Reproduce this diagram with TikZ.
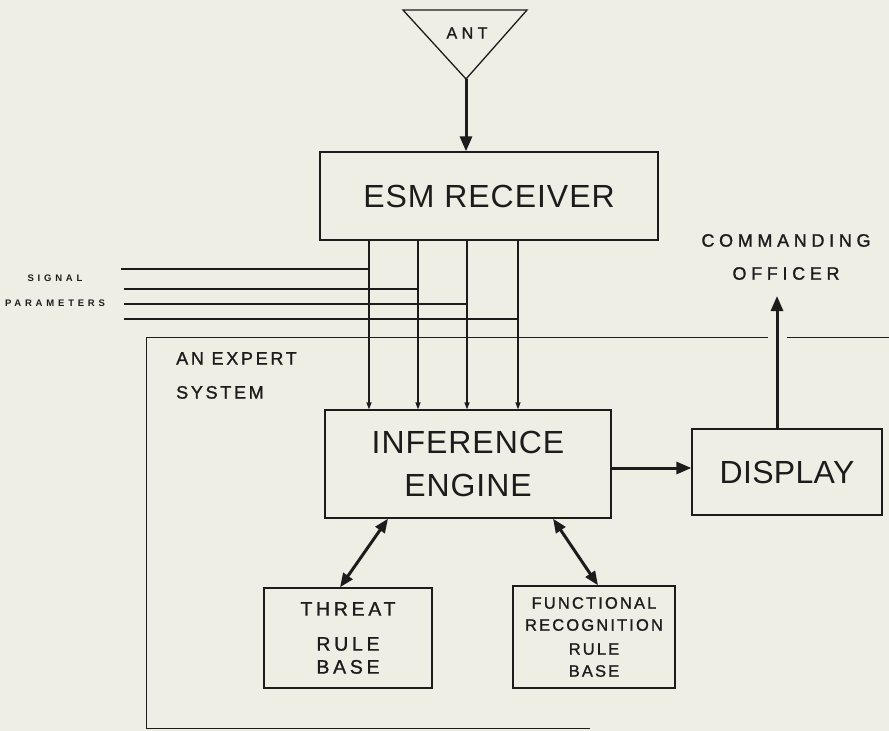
\documentclass[tikz,border=0pt]{standalone}
\usepackage{fontspec}
\setmainfont{Liberation Sans}
\usetikzlibrary{arrows.meta,calc}
\definecolor{paper}{RGB}{239,238,229}
\definecolor{ink}{RGB}{28,28,28}
\newcommand{\lsp}[3]{\fontsize{#1}{#2}\selectfont\addfontfeatures{LetterSpace=#3}}
\newcommand{\lspb}[3]{\fontsize{#1}{#2}\selectfont\addfontfeatures{LetterSpace=#3,FakeBold=1.2}}
\begin{document}
\begin{tikzpicture}[x=1pt,y=-1pt,
  boxline/.style={draw=ink,line width=1.3pt},
  blk/.style={boxline,rectangle,inner sep=0pt,align=center,text=ink},
  lbl/.style={inner sep=0pt,align=center,text=ink},
  wire/.style={draw=ink,line width=1.2pt},
  sigarrow/.style={draw=ink,line width=1.4pt,-{Triangle[length=7pt,width=5pt]}},
  bigarrow/.style={draw=ink,line width=3pt,-{Triangle[length=15pt,width=12pt]}},
  dblarrow/.style={draw=ink,line width=3pt,{Triangle[length=14pt,width=11pt]}-{Triangle[length=14pt,width=11pt]}}
]
\fill[paper] (0,0) rectangle (889,731);
\useasboundingbox (0,0) rectangle (889,731);

% antenna
\coordinate (antTL) at (403,10);
\coordinate (antTR) at (527,10);
\coordinate (apex) at (466,79);
\draw[boxline,line join=miter] (antTL) -- (antTR) -- (apex) -- cycle;
\node[lbl,font=\lspb{16}{16}{28}] (antT) at (467,33) {ANT};

% boxes
\node[blk,minimum width=338,minimum height=88,font=\lsp{32}{38}{3}] (esm) at (489,196) {ESM RECEIVER};
\node[blk,minimum width=286,minimum height=108,font=\lsp{32}{43}{3}] (inf) at (468,464) {INFERENCE\\ENGINE};
\node[blk,minimum width=190,minimum height=86,font=\lsp{32}{38}{1}] (disp) at (787,472) {DISPLAY};
\node[blk,minimum width=168,minimum height=100,font=\lspb{19.5}{23}{19}] (threat) at (348,638) {THREAT\\[12pt]RULE\\BASE};
\node[blk,minimum width=162,minimum height=102,font=\lspb{16.5}{22}{13}] (func) at (594,637) {FUNCTIONAL\\RECOGNITION\\[2pt]RULE\\BASE};

% labels
\node[lbl,font=\lspb{18}{33}{26}] (cmd) at (786,257) {COMMANDING\\OFFICER};
\node[lbl,anchor=north west,align=left,font=\lspb{18}{34}{15}] (expert) at (176,352) {AN EXPERT\\ SYSTEM};
\node[lbl,font=\bfseries\lsp{9.5}{25}{40}] (sig) at (55,291) {SIGNAL\\PARAMETERS};

% expert system boundary
\coordinate (eTL) at (146,337);
\coordinate (eTR) at (889,337);
\coordinate (eBL) at (146,728);
\coordinate (eBR) at (590,728);
\coordinate (g1) at (768,337);
\coordinate (g2) at (787,337);
\draw[wire,line width=1pt] (eTR) -- (g2);
\draw[wire,line width=1pt] (g1) -- (eTL) -- (eBL) -- (eBR);

% signal lines
\coordinate (x1) at (369,0);
\coordinate (x2) at (418,0);
\coordinate (x3) at (467,0);
\coordinate (x4) at (518,0);
\coordinate (s1) at (121,269);
\coordinate (s2) at (124,289);
\coordinate (s3) at (124,304);
\coordinate (s4) at (124,319);
\draw[wire] (s1) -- (s1 -| x1);
\draw[wire] (s2) -- (s2 -| x2);
\draw[wire] (s3) -- (s3 -| x3);
\draw[wire] (s4) -- (s4 -| x4);
\foreach \i in {1,2,3,4}{
  \draw[sigarrow] (esm.south -| x\i) -- (inf.north -| x\i);
}

% thick arrows
\draw[bigarrow] (apex) -- (esm.north -| apex);
\coordinate (yl) at (0,468);
\draw[bigarrow] (inf.east |- yl) -- (disp.west |- yl);
\coordinate (cotip) at (777,296);
\draw[bigarrow] (disp.north -| cotip) -- (cotip);

% double arrows
\coordinate (a1) at (388,0);
\coordinate (a2) at (340,0);
\coordinate (b1) at (553,0);
\coordinate (b2) at (598,0);
\draw[dblarrow] (inf.south -| a1) -- (threat.north -| a2);
\draw[dblarrow] (inf.south -| b1) -- (func.north -| b2);
\end{tikzpicture}
\end{document}
